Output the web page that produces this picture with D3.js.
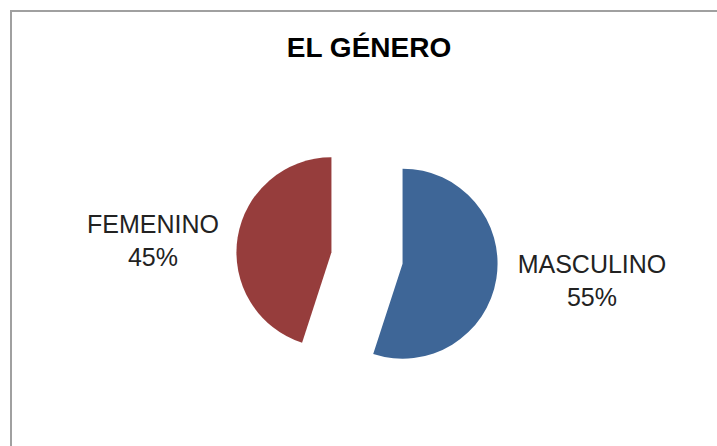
<!DOCTYPE html>
<html>
<head>
<meta charset="utf-8">
<script src="https://cdn.jsdelivr.net/npm/d3@7"></script>
<style>
  body { margin: 0; background: #fff; }
  svg { display: block; }
</style>
</head>
<body>
<svg width="717" height="446"></svg>
<script>
var categories = ["MASCULINO", "FEMENINO"]
var values = [55, 45]
var colors = ["#3E6697", "#963D3C"]
var title = "EL GÉNERO"

var svg = d3.select("svg")
var cx = 367, cy = 258
var radius = 95
var explode = 36

// chart frame
svg.append("rect")
    .attr("x", 11).attr("y", 11)
    .attr("width", 720).attr("height", 450)
    .attr("fill", "none")
    .attr("stroke", "#a0a0a0")
    .attr("stroke-width", 2)

svg.append("text")
    .attr("x", 369).attr("y", 57)
    .attr("text-anchor", "middle")
    .attr("font-family", "Liberation Sans, Arial, sans-serif")
    .attr("font-weight", "bold")
    .attr("font-size", 28)
    .text(title)

var data = categories.map(function(c, i) { return { name: c, value: values[i], color: colors[i] } })
var total = d3.sum(values)

var pie = d3.pie().sort(null).value(function(d) { return d.value })
var arc = d3.arc().innerRadius(0).outerRadius(radius)

var g = svg.append("g").attr("transform", "translate(" + cx + "," + cy + ")")

var slices = pie(data)

g.selectAll("path.slice")
    .data(slices)
    .enter().append("path")
    .attr("class", "slice")
    .attr("d", arc)
    .attr("fill", function(d) { return d.data.color })
    .attr("transform", function(d) {
        var a = (d.startAngle + d.endAngle) / 2
        return "translate(" + (explode * Math.sin(a)) + "," + (-explode * Math.cos(a)) + ")"
    })

// label positions: outside the exploded slices
var labelPos = [[592, 273], [153, 233]]
var lbl = svg.selectAll("text.lbl")
    .data(slices)
    .enter().append("text")
    .attr("class", "lbl")
    .attr("text-anchor", "middle")
    .attr("font-family", "Liberation Sans, Arial, sans-serif")
    .attr("font-size", 25)
    .attr("fill", "#222")
lbl.append("tspan")
    .attr("x", function(d, i) { return labelPos[i][0] })
    .attr("y", function(d, i) { return labelPos[i][1] })
    .text(function(d) { return d.data.name })
lbl.append("tspan")
    .attr("x", function(d, i) { return labelPos[i][0] })
    .attr("y", function(d, i) { return labelPos[i][1] + 33 })
    .text(function(d) { return Math.round(d.data.value / total * 100) + "%" })
</script>
</body>
</html>
